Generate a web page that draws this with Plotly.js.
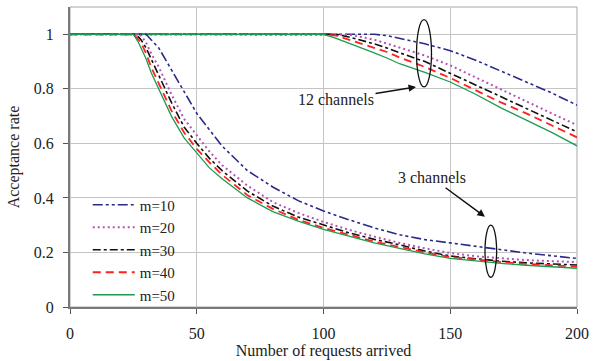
<!DOCTYPE html>
<html>
<head>
<meta charset="utf-8">
<script src="https://cdn.plot.ly/plotly-3.0.1.min.js"></script>
<style>html,body{margin:0;padding:0;background:#fff;}#chart{width:603px;height:361px;}</style>
</head>
<body>
<div id="chart"></div>
<script>
// 3-channel series
var x3 = [0, 20, 25, 27, 28, 30, 32, 35, 40, 45, 50, 55, 60, 70, 80, 90, 100, 110, 120, 130, 140, 150, 160, 170, 180, 190, 200];
var m10_3 = [1, 1, 1, 1, 1, 1, 0.98, 0.95, 0.87, 0.79, 0.71, 0.65, 0.59, 0.50, 0.44, 0.39, 0.352, 0.32, 0.29, 0.265, 0.247, 0.235, 0.222, 0.21, 0.198, 0.188, 0.178];
var m20_3 = [1, 1, 1, 1, 0.995, 0.97, 0.93, 0.88, 0.78, 0.69, 0.63, 0.57, 0.52, 0.445, 0.385, 0.345, 0.312, 0.283, 0.258, 0.235, 0.215, 0.198, 0.186, 0.178, 0.172, 0.168, 0.165];
var m30_3 = [1, 1, 1, 0.99, 0.98, 0.95, 0.91, 0.85, 0.75, 0.66, 0.60, 0.545, 0.50, 0.425, 0.37, 0.33, 0.30, 0.272, 0.248, 0.228, 0.205, 0.187, 0.177, 0.168, 0.162, 0.157, 0.154];
var m40_3 = [1, 1, 1, 0.98, 0.97, 0.93, 0.88, 0.82, 0.72, 0.64, 0.58, 0.53, 0.485, 0.41, 0.36, 0.32, 0.29, 0.265, 0.24, 0.22, 0.20, 0.183, 0.173, 0.165, 0.158, 0.152, 0.148];
var m50_3 = [1, 1, 1, 0.97, 0.95, 0.91, 0.86, 0.80, 0.70, 0.62, 0.565, 0.51, 0.47, 0.40, 0.35, 0.315, 0.285, 0.26, 0.235, 0.215, 0.195, 0.178, 0.168, 0.16, 0.153, 0.147, 0.142];

// 12-channel series
var x12 = [0, 100, 105, 110, 115, 120, 125, 130, 140, 150, 160, 170, 180, 190, 200];
var m10_12 = [1, 1, 1, 1, 1, 1, 0.995, 0.985, 0.965, 0.94, 0.905, 0.865, 0.825, 0.785, 0.74];
var m20_12 = [1, 1, 1, 0.998, 0.99, 0.98, 0.966, 0.952, 0.922, 0.886, 0.843, 0.797, 0.754, 0.71, 0.667];
var m30_12 = [1, 1, 1, 0.99, 0.978, 0.965, 0.95, 0.932, 0.900, 0.857, 0.815, 0.77, 0.727, 0.685, 0.642];
var m40_12 = [1, 1, 0.995, 0.98, 0.965, 0.95, 0.935, 0.915, 0.880, 0.84, 0.795, 0.75, 0.71, 0.665, 0.622];
var m50_12 = [1, 1, 0.985, 0.968, 0.95, 0.932, 0.913, 0.892, 0.86, 0.825, 0.78, 0.73, 0.685, 0.64, 0.591];

var names = ['m=10', 'm=20', 'm=30', 'm=40', 'm=50'];
var colors = ['#2a2a88', '#b653b6', '#111111', '#ff2020', '#1e9a50'];
var dashes = ['10px,3px,3px,3px,3px,3px', '2px,3px', '8px,3px,3px,3px', '8px,5px', 'solid'];
var widths = [1.6, 2, 1.6, 1.8, 1.3];
var ys3 = [m10_3, m20_3, m30_3, m40_3, m50_3];
var ys12 = [m10_12, m20_12, m30_12, m40_12, m50_12];

var traces = [];
for (var i = 0; i < 5; i++) {
  traces.push({x: x12, y: ys12[i], type: 'scatter', mode: 'lines', name: names[i], legendgroup: names[i], showlegend: false,
    line: {color: colors[i], dash: dashes[i], width: widths[i]}});
}
for (var i = 0; i < 5; i++) {
  traces.push({x: x3, y: ys3[i], type: 'scatter', mode: 'lines', name: names[i], legendgroup: names[i], showlegend: true,
    line: {color: colors[i], dash: dashes[i], width: widths[i]}});
}

var fontFam = '"Liberation Serif"';
var layout = {
  width: 603, height: 361,
  margin: {l: 70, r: 26, t: 7, b: 54},
  paper_bgcolor: '#fff', plot_bgcolor: '#fff',
  font: {family: fontFam, size: 16, color: '#222'},
  showlegend: true,
  legend: {x: 0.035, y: 0.19, xanchor: 'left', yanchor: 'middle', bgcolor: 'rgba(0,0,0,0)', borderwidth: 0,
    itemwidth: 42,
    font: {family: fontFam, size: 15, color: '#222'}, traceorder: 'normal'},
  xaxis: {range: [0, 200], tickvals: [0, 50, 100, 150, 200], ticks: 'outside', ticklen: 5, tickcolor: '#555',
    showgrid: true, gridcolor: '#c4c4c4', gridwidth: 1, zeroline: false,
    showline: true, linecolor: '#7a7a7a', linewidth: 2, ticklabelstandoff: 6,
    tickfont: {family: fontFam, size: 16},
    title: {text: 'Number of requests arrived', font: {family: fontFam, size: 16}, standoff: 2}},
  yaxis: {range: [0, 1.1], tickvals: [0, 0.2, 0.4, 0.6, 0.8, 1], ticktext: ['0', '0.2', '0.4', '0.6', '0.8', '1'],
    ticks: 'outside', ticklen: 5, tickcolor: '#555',
    showgrid: true, gridcolor: '#c4c4c4', gridwidth: 1, zeroline: false,
    showline: true, linecolor: '#7a7a7a', linewidth: 2, ticklabelstandoff: 6,
    tickfont: {family: fontFam, size: 16},
    title: {text: 'Acceptance rate', font: {family: fontFam, size: 16}, standoff: 10}},
  shapes: [
    {type: 'rect', xref: 'paper', yref: 'paper', x0: 0, x1: 1, y0: 0, y1: 1, line: {color: '#a8a8a8', width: 1}, layer: 'below'},
    {type: 'circle', xref: 'x', yref: 'y', x0: 136.7, x1: 142.6, y0: 0.807, y1: 1.054, line: {color: '#111', width: 1.3}},
    {type: 'circle', xref: 'x', yref: 'y', x0: 163.7, x1: 168.3, y0: 0.109, y1: 0.300, line: {color: '#111', width: 1.3}}
  ],
  annotations: [
    {x: 136.5, y: 0.807, xref: 'x', yref: 'y', text: '12 channels', showarrow: true, arrowhead: 2, arrowsize: 1, arrowwidth: 1.5,
      arrowcolor: '#111', ax: -80, ay: 13, font: {family: fontFam, size: 16, color: '#222'}},
    {x: 163.7, y: 0.331, xref: 'x', yref: 'y', text: '3 channels', showarrow: true, arrowhead: 2, arrowsize: 1, arrowwidth: 1.5,
      arrowcolor: '#111', ax: -53, ay: -39, font: {family: fontFam, size: 16, color: '#222'}}
  ]
};

Plotly.newPlot('chart', traces, layout, {displayModeBar: false, staticPlot: true});
</script>
</body>
</html>
